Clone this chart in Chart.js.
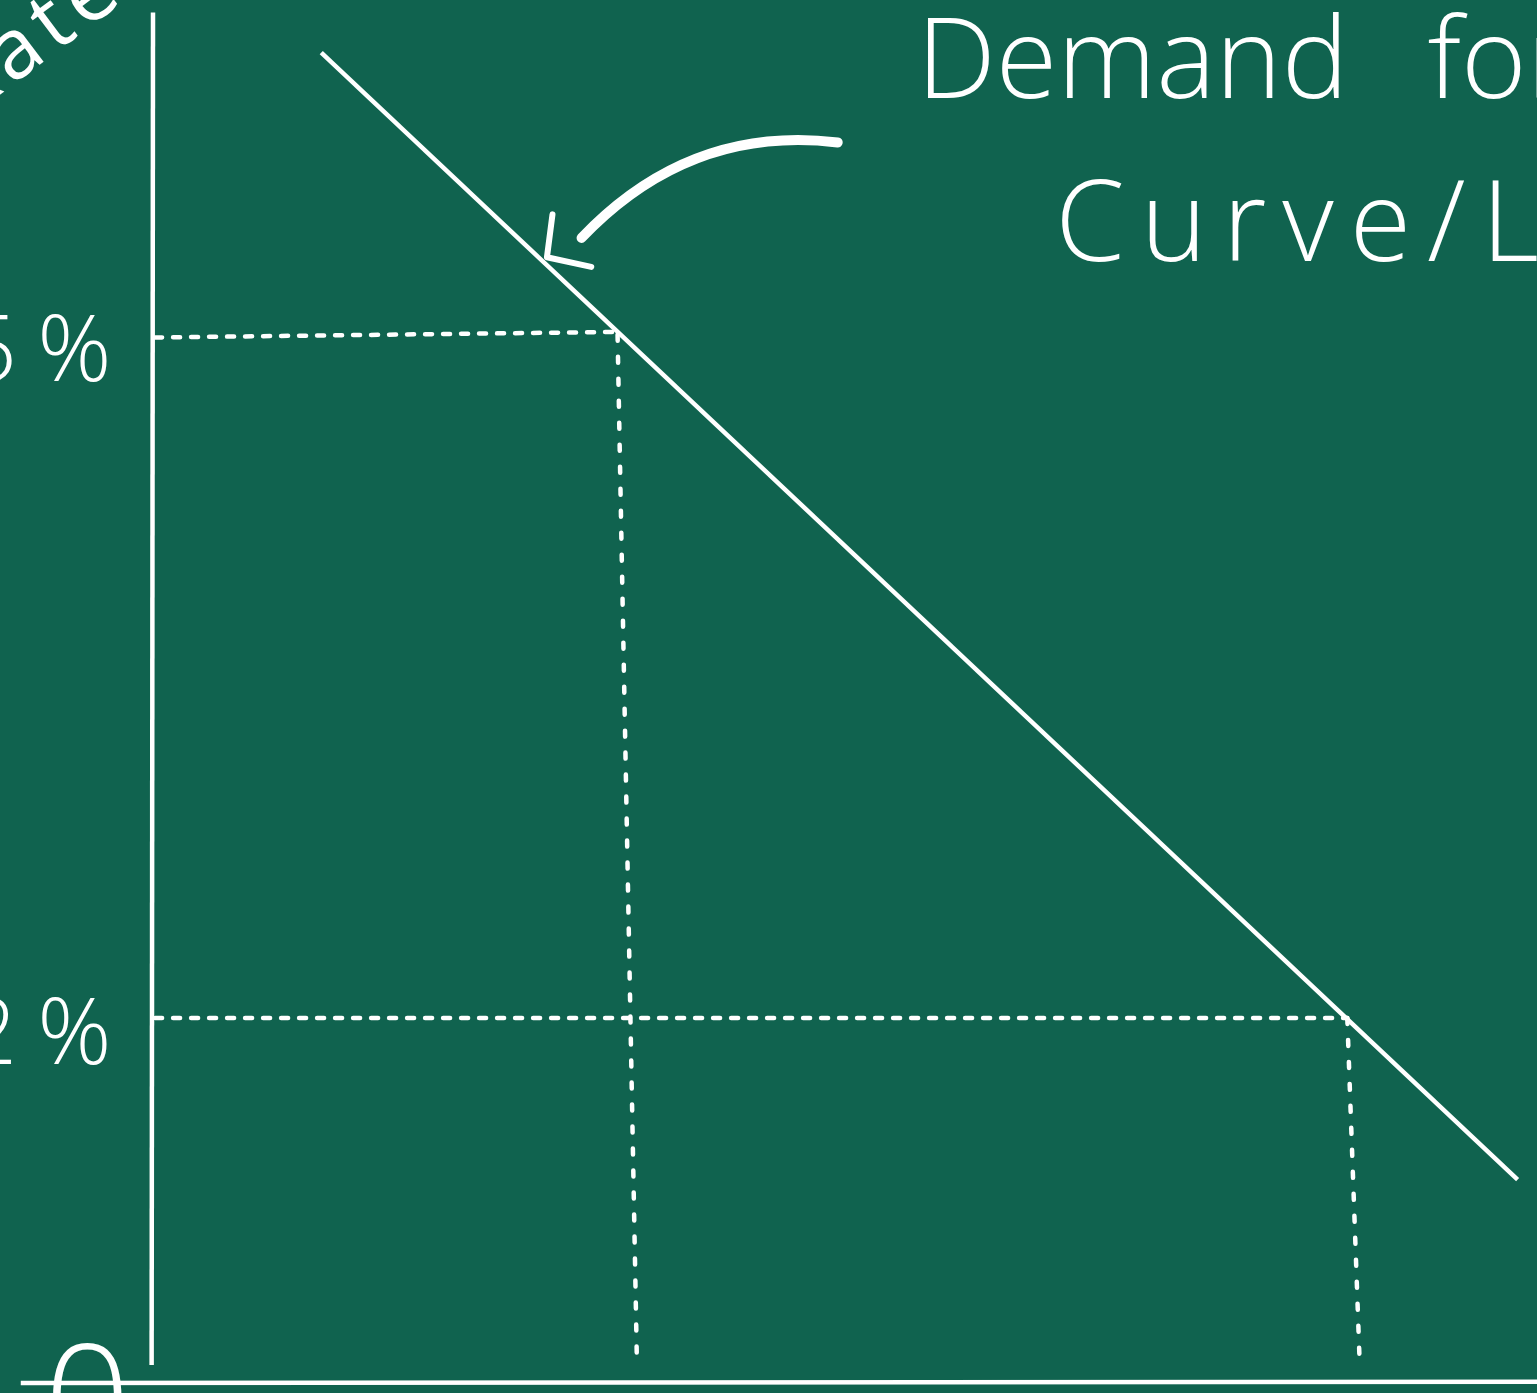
<!DOCTYPE html>
<html>
<head>
<meta charset="utf-8">
<title>Demand for Loanable Funds</title>
<script src="https://cdn.jsdelivr.net/npm/chart.js@4.4.1/dist/chart.umd.min.js"></script>
<style>
  html, body { margin: 0; padding: 0; background: #10634f; overflow: hidden; }
  canvas { display: block; }
</style>
</head>
<body>
<canvas id="board" width="1537" height="1393"></canvas>
<script>
// values (quantity on x, interest rate on y, both in board units)
const demandQty = [12.2, 98.6]
const demandRate = [96.2, 14.7]

const rateLevels = [75.8, 26.4]
const rateLabels = ['5%', '2%']
const qtyAtRate = [33.6, 86.3]      // where the dashed lines meet the demand line
const qtyAtAxis = [35.0, 87.2]      // where the dropped lines reach the bottom (hand drawn, slanted)

const axisTop = 99.1
const axisLeft = -9.5
const axisRight = 100

const chalk = '#ffffff'
const board = '#10634f'
const hand = '"Open Sans", "DejaVu Sans", sans-serif'

// make a two point line from x/y lists
function pts(xs, ys) {
    return xs.map((x, i) => ({ x: x, y: ys[i] }))
}

let datasets = [
    { label: 'Demand', data: pts(demandQty, demandRate), borderWidth: 4.5 },
    { label: 'y axis', data: pts([0.05, -0.05], [axisTop, 1.3]), borderWidth: 4.5 },
    { label: 'x axis', data: pts([axisLeft, axisRight], [0, 0.1]), borderWidth: 4.5 }
]

rateLevels.forEach((r, i) => {
    let tilt = i == 0 ? 0.2 : 0
    datasets.push({
        label: 'rate ' + rateLabels[i],
        data: pts([0.2, qtyAtRate[i]], [r - tilt, r + tilt]),
        borderWidth: 4.5, borderDash: [7, 11], borderCapStyle: 'round'
    })
    datasets.push({
        label: 'qty ' + rateLabels[i],
        data: pts([qtyAtRate[i], qtyAtAxis[i]], [r, 1.3]),
        borderWidth: 4.5, borderDash: [6, 16], borderCapStyle: 'round'
    })
})

datasets.forEach(d => {
    d.showLine = true
    d.pointRadius = 0
    d.borderColor = chalk
    d.fill = false
})

// chalkboard background + handwritten notes
const chalkNotes = {
    id: 'chalkNotes',
    beforeDraw(chart) {
        const c = chart.ctx
        c.save()
        c.fillStyle = board
        c.fillRect(0, 0, chart.width, chart.height)
        c.restore()
    },
    afterDatasetsDraw(chart) {
        const c = chart.ctx
        const X = v => chart.scales.x.getPixelForValue(v)
        const Y = v => chart.scales.y.getPixelForValue(v)
        c.save()
        c.fillStyle = chalk
        c.strokeStyle = chalk
        c.lineCap = 'round'
        c.lineJoin = 'round'

        // rate labels left of the axis
        c.font = '300 92px ' + hand
        c.letterSpacing = '20px'
        c.textAlign = 'right'
        c.textBaseline = 'middle'
        rateLabels.forEach((t, i) => {
            c.fillText(t, X(-1.5), Y(rateLevels[i]) + 20)
        })
        c.letterSpacing = '0px'

        // axis title, written at an angle and cut by the edge
        c.save()
        c.translate(X(-13.6), Y(91.2))
        c.rotate(-37 * Math.PI / 180)
        c.font = '400 84px ' + hand
        c.letterSpacing = '8px'
        c.textAlign = 'left'
        c.textBaseline = 'alphabetic'
        c.fillText('Rate', 0, 0)
        c.letterSpacing = '0px'
        c.restore()

        // origin
        c.font = '300 150px ' + hand
        c.textAlign = 'center'
        c.textBaseline = 'alphabetic'
        c.fillText('0', X(-4.7), Y(-5))

        // title of the curve
        c.textAlign = 'left'
        c.font = '300 112px ' + hand
        c.wordSpacing = '50px'
        c.fillText('Demand for Loanable Funds', X(55.2), Y(92.9))
        c.wordSpacing = '0px'
        c.font = '300 112px ' + hand
        c.letterSpacing = '16px'
        c.fillText('Curve/Line', X(65.2), Y(81.1))
        c.letterSpacing = '0px'

        // arrow pointing at the demand line
        c.lineWidth = 10
        c.beginPath()
        c.moveTo(X(49.5), Y(89.7))
        c.quadraticCurveTo(X(38.8), Y(91.0), X(31.0), Y(82.8))
        c.stroke()
        c.lineWidth = 6
        c.beginPath()
        c.moveTo(X(28.9), Y(84.5))
        c.lineTo(X(28.5), Y(81.4))
        c.lineTo(X(31.7), Y(80.7))
        c.stroke()
        c.restore()
    }
}

new Chart(document.getElementById('board'), {
    type: 'scatter',
    data: { datasets: datasets },
    options: {
        responsive: false,
        animation: false,
        devicePixelRatio: 1,
        layout: { padding: 0 },
        plugins: { legend: { display: false }, tooltip: { enabled: false } },
        scales: {
            x: { type: 'linear', min: -11, max: 100, display: false },
            y: { type: 'linear', min: -0.72, max: 100, display: false }
        }
    },
    plugins: [chalkNotes]
})
</script>
</body>
</html>
